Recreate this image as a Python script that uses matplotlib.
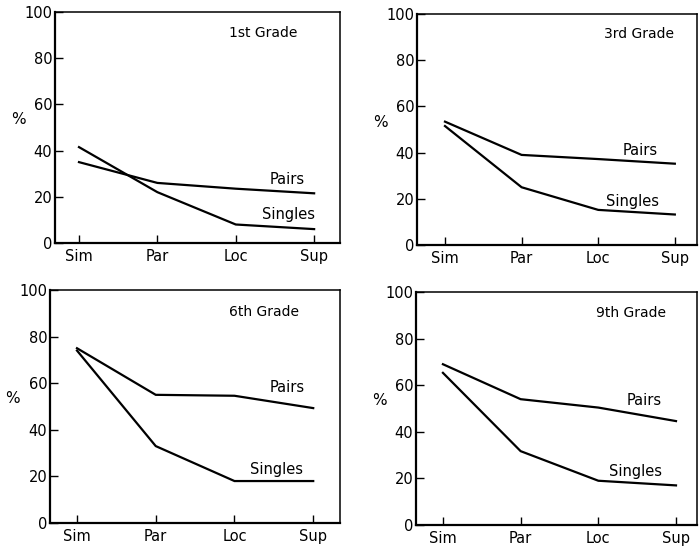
import numpy as np
import matplotlib
matplotlib.use("Agg")
import matplotlib.pyplot as plt

# Categorias del eje x y valores de cada grado (porcentajes)
categorias = ["Sim", "Par", "Loc", "Sup"]
grados = ["1st Grade", "3rd Grade", "6th Grade", "9th Grade"]

pares_1 = [35, 26, 23.5, 21.5]
sueltos_1 = [41.5, 22, 8, 6]
pares_3 = [53.4, 39, 37.2, 35.2]
sueltos_3 = [51.5, 25, 15.2, 13.2]
pares_6 = [75, 55, 54.6, 49.3]
sueltos_6 = [74, 33, 18, 18]
pares_9 = [69, 54, 50.4, 44.6]
sueltos_9 = [65.3, 31.7, 19, 17]

pares = [pares_1, pares_3, pares_6, pares_9]
sueltos = [sueltos_1, sueltos_3, sueltos_6, sueltos_9]

# Posicion de las etiquetas de texto dentro de cada panel (x, y en datos)
pos_titulo = [(2.35, 91), (2.53, 91.5), (2.38, 90.5), (2.42, 91)]
pos_pares = [(2.66, 27.5), (2.55, 41), (2.67, 58), (2.59, 53.6)]
pos_sueltos = [(2.67, 12.5), (2.45, 19), (2.53, 23), (2.48, 23)]

# Rectangulos de los ejes en fraccion de figura y limites x
rects = [
    [0.0787, 0.5558, 0.4077, 0.4223],
    [0.5966, 0.5521, 0.4006, 0.4223],
    [0.0715, 0.0439, 0.4149, 0.4260],
    [0.5951, 0.0402, 0.4020, 0.4260],
]
limites_x = [(-0.306, 3.33), (-0.365, 3.29), (-0.343, 3.34), (-0.347, 3.27)]

plt.rcParams['font.family'] = ['DejaVu Sans']

fig = plt.figure(figsize=(6.99, 5.47), dpi=100)
x = np.arange(len(categorias))

for i in range(4):
    ax = fig.add_axes(rects[i])
    ax.plot(x, pares[i], color='black', linewidth=1.6, solid_joinstyle='miter')
    ax.plot(x, sueltos[i], color='black', linewidth=1.6, solid_joinstyle='miter')

    ax.set_xlim(*limites_x[i])
    ax.set_ylim(0, 100)
    ax.set_xticks(x)
    ax.set_xticklabels(categorias)
    ax.set_yticks([0, 20, 40, 60, 80, 100])
    ax.tick_params(direction='in', length=6, width=1, labelsize=10.5, pad=2)
    ax.tick_params(axis='x', pad=4)

    for lado in ['left', 'bottom']:
        ax.spines[lado].set_linewidth(1.6)
    for lado in ['top', 'right']:
        ax.spines[lado].set_linewidth(1.1)

    ax.set_ylabel('%', rotation=0, fontsize=11)
    ax.yaxis.set_label_coords(-0.13, 0.5)

    ax.text(pos_titulo[i][0], pos_titulo[i][1], grados[i], ha='center', va='center', fontsize=10)
    ax.text(pos_pares[i][0], pos_pares[i][1], 'Pairs', ha='center', va='center', fontsize=10.5)
    ax.text(pos_sueltos[i][0], pos_sueltos[i][1], 'Singles', ha='center', va='center', fontsize=10.5)

fig.savefig('out.png', dpi=100)
